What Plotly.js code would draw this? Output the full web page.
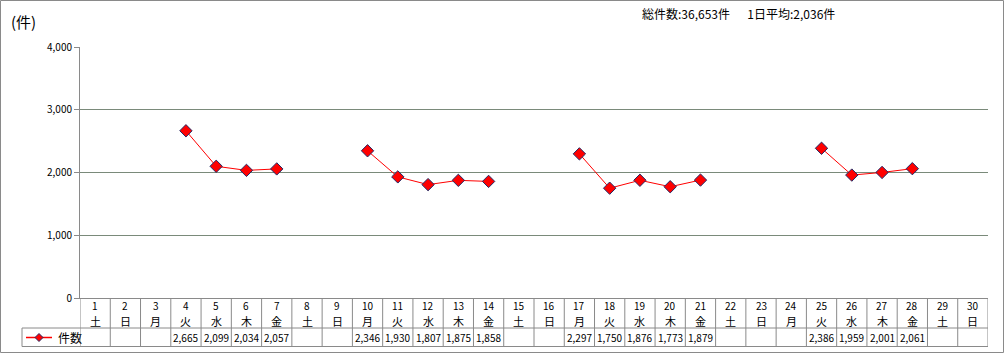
<!DOCTYPE html>
<html>
<head>
<meta charset="utf-8">
<script src="https://cdn.plot.ly/plotly-3.0.1.min.js"></script>
<style>
html,body{margin:0;padding:0;background:#fff;}
#chart{width:1005px;height:355px;}
</style>
</head>
<body>
<div id="chart"></div>
<script>
// ---- data ----
const days = [1,2,3,4,5,6,7,8,9,10,11,12,13,14,15,16,17,18,19,20,21,22,23,24,25,26,27,28,29,30];
const weekdays = ["土","日","月","火","水","木","金","土","日","月","火","水","木","金","土","日","月","火","水","木","金","土","日","月","火","水","木","金","土","日"];
const counts = [null,null,null,2665,2099,2034,2057,null,null,2346,1930,1807,1875,1858,null,null,2297,1750,1876,1773,1879,null,null,null,2386,1959,2001,2061,null,null];
const seriesName = "件数";
const yTicks = [0,1000,2000,3000,4000];
const unitLabel = "(件)";

// ---- layout helpers (pixel -> paper) ----
const W = 1005, H = 355, L = 80, R = 17, T = 47, B = 57;
const PW = W - L - R, PH = H - T - B;
const px = x => (x - L) / PW;
const py = y => ((H - B) - y) / PH;

const fmt = v => v.toLocaleString('en-US');
const valid = counts.filter(v => v !== null);
const total = valid.reduce((a, b) => a + b, 0);
const avg = Math.round(total / valid.length);

const font = "'Noto Sans CJK JP', 'DejaVu Sans', sans-serif";
const gridCol = "#7a8a7a";
const borderCol = "#8a8a8a";

const trace = {
  x: days, y: counts, type: 'scatter', mode: 'lines+markers',
  name: seriesName, connectgaps: false,
  line: {color: '#ff0000', width: 1},
  marker: {symbol: 'diamond', size: 9.5, color: '#ff0000', line: {color: '#1f2a66', width: 1}},
  cliponaxis: false, showlegend: false
};

const annotations = [];
const shapes = [];
const yDay = py(305.5), yWd = py(320.5), yVal = py(337.5);
const yRowSep = py(328), yBottom = py(346.5);

days.forEach((d, i) => {
  annotations.push({x: d, xref: 'x', y: yDay, yref: 'paper', text: String(d), showarrow: false,
    font: {family: font, size: 10, color: '#000'}, xanchor: 'center', yanchor: 'middle'});
  annotations.push({x: d, xref: 'x', y: yWd, yref: 'paper', text: weekdays[i], showarrow: false,
    font: {family: font, size: 11, color: '#000'}, xanchor: 'center', yanchor: 'middle'});
  if (counts[i] !== null) {
    annotations.push({x: d, xref: 'x', y: yVal, yref: 'paper', text: fmt(counts[i]), showarrow: false,
      font: {family: font, size: 10, color: '#000'}, xanchor: 'center', yanchor: 'middle'});
  }
});

// table vertical lines
for (let k = 0; k <= days.length; k++) {
  shapes.push({type: 'line', xref: 'x', yref: 'paper', x0: k + 0.5, x1: k + 0.5, y0: 0, y1: yBottom,
    line: {color: borderCol, width: 1}});
}
// table horizontal lines
shapes.push({type: 'line', xref: 'paper', yref: 'paper', x0: px(22), x1: 1, y0: yRowSep, y1: yRowSep, line: {color: borderCol, width: 1}});
shapes.push({type: 'line', xref: 'paper', yref: 'paper', x0: px(22), x1: 1, y0: yBottom, y1: yBottom, line: {color: borderCol, width: 1}});
shapes.push({type: 'line', xref: 'paper', yref: 'paper', x0: px(22), x1: px(22), y0: yRowSep, y1: yBottom, line: {color: borderCol, width: 1}});
// legend key
shapes.push({type: 'line', xref: 'paper', yref: 'paper', x0: px(26), x1: px(52), y0: yVal, y1: yVal, line: {color: '#ff0000', width: 1.5}});
const cx = 39, cy = 337.5, r = 4;
shapes.push({type: 'path', xref: 'paper', yref: 'paper',
  path: `M ${px(cx)} ${py(cy - r)} L ${px(cx + r)} ${py(cy)} L ${px(cx)} ${py(cy + r)} L ${px(cx - r)} ${py(cy)} Z`,
  fillcolor: '#ff0000', line: {color: '#1f2a66', width: 1}});
annotations.push({x: px(56), xref: 'paper', y: yVal, yref: 'paper', text: seriesName, showarrow: false,
  font: {family: font, size: 12, color: '#000'}, xanchor: 'left', yanchor: 'middle'});

// outer border
shapes.push({type: 'rect', xref: 'paper', yref: 'paper', x0: px(0.5), x1: px(1003.5), y0: py(0.5), y1: py(352.5),
  line: {color: borderCol, width: 1}, fillcolor: 'rgba(0,0,0,0)'});

// top texts
annotations.push({x: px(9), xref: 'paper', y: py(21), yref: 'paper', text: unitLabel, showarrow: false,
  font: {family: font, size: 15, color: '#000'}, xanchor: 'left', yanchor: 'middle'});
annotations.push({x: px(640), xref: 'paper', y: py(14), yref: 'paper',
  text: `総件数:${fmt(total)}件　  1日平均:${fmt(avg)}件`, showarrow: false,
  font: {family: font, size: 12, color: '#000'}, xanchor: 'left', yanchor: 'middle'});

const layout = {
  width: W, height: H,
  margin: {l: L, r: R, t: T, b: B, pad: 0},
  paper_bgcolor: '#fff', plot_bgcolor: '#fff',
  showlegend: false,
  xaxis: {range: [0.5, days.length + 0.5], showticklabels: false, ticks: '', showgrid: false,
    zeroline: false, showline: true, linecolor: borderCol, linewidth: 1, fixedrange: true},
  yaxis: {range: [0, 4000], tickvals: yTicks, ticktext: yTicks.map(fmt), ticks: 'outside', ticklen: 5,
    tickcolor: borderCol, showline: true, linecolor: borderCol, linewidth: 1, showgrid: true,
    gridcolor: gridCol, gridwidth: 1, zeroline: false, tickfont: {family: font, size: 10, color: '#000'},
    fixedrange: true},
  annotations: annotations,
  shapes: shapes
};

Plotly.newPlot('chart', [trace], layout, {displayModeBar: false, staticPlot: true});
</script>
</body>
</html>
